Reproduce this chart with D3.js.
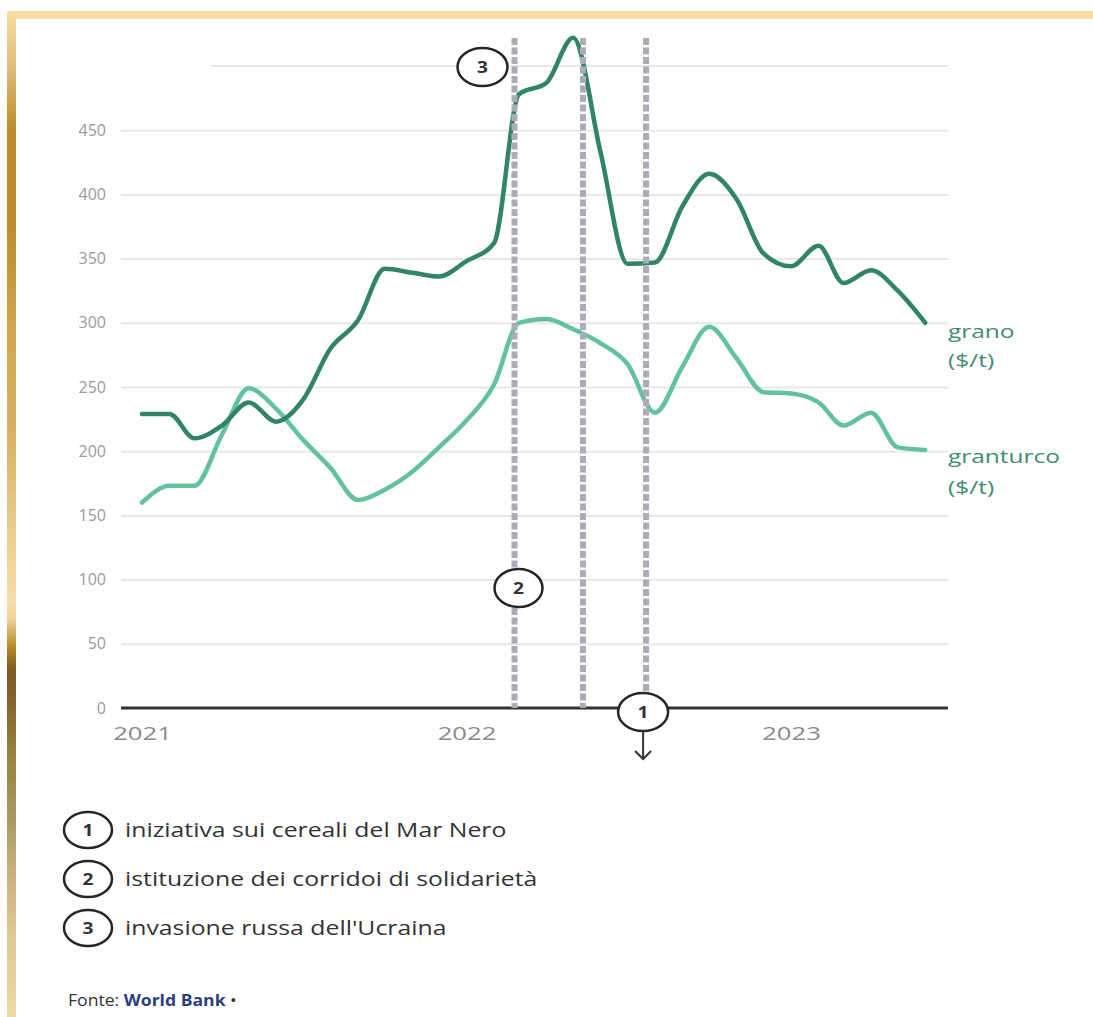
<!DOCTYPE html>
<html>
<head>
<meta charset="utf-8">
<script src="https://cdn.jsdelivr.net/npm/d3@7"></script>
<style>
  body { margin: 0; background: #fff; }
  svg { display: block; font-family: 'Open Sans', sans-serif; }
</style>
</head>
<body>
<svg width="1093" height="1017"></svg>
<script>
// monthly prices, $/t
const months = ['2021-01', '2021-02', '2021-03', '2021-04', '2021-05', '2021-06',
  '2021-07', '2021-08', '2021-09', '2021-10', '2021-11', '2021-12',
  '2022-01', '2022-02', '2022-03', '2022-04', '2022-05', '2022-06',
  '2022-07', '2022-08', '2022-09', '2022-10', '2022-11', '2022-12',
  '2023-01', '2023-02', '2023-03', '2023-04', '2023-05', '2023-06'];
const grano = [229, 229, 210, 220, 238, 223, 240, 280, 302, 342, 339, 336,
  348, 362, 478, 487, 522, 432, 346, 347, 391, 416, 396, 354,
  344, 360, 331, 341, 325, 300];
const granturco = [160, 173, 173, 213, 249, 233, 209, 187, 162, 170, 184, 203,
  224, 252, 300, 303, 295, 284, 268, 230, 266, 297, 272, 246,
  245, 238, 220, 230, 203, 201];

const yTicks = [0, 50, 100, 150, 200, 250, 300, 350, 400, 450];
const xTicks = ['2021-01', '2022-01', '2023-01'];

// events: [date, number]
const events = [['2022-02-24', 3], ['2022-05-12', 2], ['2022-07-22', 1]];
const legend = [
  [1, 'iniziativa sui cereali del Mar Nero'],
  [2, 'istituzione dei corridoi di solidarietà'],
  [3, "invasione russa dell'Ucraina"]
];

const parse = d3.timeParse('%Y-%m-%d');
const parseM = d3.timeParse('%Y-%m');

const svg = d3.select('svg');

// gold frame
const defs = svg.append('defs');
const grad = defs.append('linearGradient')
  .attr('id', 'gold').attr('x1', 0).attr('y1', 0).attr('x2', 0).attr('y2', 1);
[[0, '#f7dca0'], [0.056, '#e0be78'], [0.115, '#ba8e2a'], [0.22, '#bb9030'],
 [0.32, '#d0a850'], [0.407, '#d5b060'], [0.585, '#f7dfa8'], [0.602, '#f0d098'],
 [0.628, '#b8902e'], [0.652, '#7d5a20'], [0.685, '#86642c'], [0.735, '#998040'],
 [0.8, '#a89a60'], [0.85, '#c8b078'], [0.917, '#e0c890'], [1, '#f0d8a8']]
  .forEach(([o, c]) => grad.append('stop').attr('offset', o).attr('stop-color', c));

svg.append('rect').attr('x', 7).attr('y', 11).attr('width', 1090).attr('height', 8)
  .attr('rx', 2).attr('fill', '#f8dea6');
svg.append('rect').attr('x', 7).attr('y', 11).attr('width', 9).attr('height', 1010)
  .attr('rx', 2).attr('fill', 'url(#gold)');

const x = d3.scaleTime()
  .domain([parseM('2021-01'), parseM('2023-01')])
  .range([142, 791]);
const y = d3.scaleLinear().domain([0, 500]).range([708, 66]);

const LEFT = 121, RIGHT = 948;

// text in the source is drawn a bit wider than the font
function wideText(parent, tx, ty, sx) {
  return parent.append('g').attr('transform', `translate(${tx},${ty}) scale(${sx},1)`)
    .append('text');
}

// top gridline (500)
svg.append('line')
  .attr('x1', 211).attr('x2', RIGHT)
  .attr('y1', y(500)).attr('y2', y(500))
  .attr('stroke', '#e8e8e8').attr('stroke-width', 2);

// y axis + gridlines
const yAxis = svg.append('g')
  .attr('transform', `translate(${LEFT},0)`)
  .call(d3.axisLeft(y).tickValues(yTicks).tickSize(-(RIGHT - LEFT)).tickPadding(15));
yAxis.select('.domain').remove();
yAxis.selectAll('line').attr('stroke', '#e8e8e8').attr('stroke-width', 2)
  .filter((d) => d === 0).remove();
yAxis.selectAll('text')
  .attr('fill', '#9a9a9a').style('font-size', '16px').style('font-family', 'Open Sans');

// x axis
const xAxis = svg.append('g')
  .attr('transform', `translate(0,${y(0)})`)
  .call(d3.axisBottom(x).tickValues(xTicks.map(parseM))
    .tickFormat(d3.timeFormat('%Y')).tickSize(0).tickPadding(19));
xAxis.select('.domain').remove();
xAxis.selectAll('text')
  .attr('transform', 'scale(1.35,1)')
  .attr('fill', '#8a8a8a').style('font-size', '19px').style('font-family', 'Open Sans');

svg.append('line')
  .attr('x1', LEFT).attr('x2', RIGHT)
  .attr('y1', y(0)).attr('y2', y(0))
  .attr('stroke', '#333').attr('stroke-width', 3);

// data lines
const line = (vals) => d3.line()
  .x((d, i) => x(parseM(months[i])))
  .y((d) => y(d))
  .curve(d3.curveMonotoneX)(vals);

svg.append('path').attr('d', line(granturco))
  .attr('fill', 'none').attr('stroke', '#62c29e').attr('stroke-width', 4.5)
  .attr('stroke-linecap', 'round').attr('stroke-linejoin', 'round');
svg.append('path').attr('d', line(grano))
  .attr('fill', 'none').attr('stroke', '#318468').attr('stroke-width', 4.5)
  .attr('stroke-linecap', 'round').attr('stroke-linejoin', 'round');

// event lines
svg.selectAll('.ev')
  .data(events)
  .join('line')
  .attr('class', 'ev')
  .attr('x1', (d) => x(parse(d[0]))).attr('x2', (d) => x(parse(d[0])))
  .attr('y1', 38).attr('y2', y(0))
  .attr('stroke', '#abacb7').attr('stroke-width', 6)
  .attr('stroke-dasharray', '7,2.5');

// numbered markers
function marker(cx, cy, n, rx, ry) {
  const g = svg.append('g').attr('transform', `translate(${cx},${cy})`);
  g.append('ellipse').attr('rx', rx).attr('ry', ry)
    .attr('fill', '#fff').attr('stroke', '#262626').attr('stroke-width', 2.5);
  g.append('text').text(n)
    .attr('text-anchor', 'middle').attr('dy', '0.36em')
    .attr('transform', 'scale(1.2,1)')
    .attr('fill', '#333').style('font-weight', 'bold').style('font-size', '16px');
  return g;
}
const xInv = x(parse(events[0][0]));
const xNero = x(parse(events[2][0]));
marker(xInv - 32, 67, 3, 25, 19);
marker(xInv + 4, 588, 2, 24, 19);
marker(xNero - 3, 712, 1, 25, 19);

// arrow below marker 1
svg.append('line')
  .attr('x1', xNero - 3).attr('x2', xNero - 3)
  .attr('y1', 731).attr('y2', 759)
  .attr('stroke', '#333').attr('stroke-width', 2);
svg.append('path')
  .attr('d', `M${xNero - 11},751 L${xNero - 3},759 L${xNero + 5},751`)
  .attr('fill', 'none').attr('stroke', '#333').attr('stroke-width', 2);

// series labels
[['grano', 338], ['($/t)', 367], ['granturco', 463], ['($/t)', 494]].forEach(([t, ty]) => {
  wideText(svg, 948, ty, 1.36).text(t)
    .attr('fill', '#3f8c73').style('font-size', '18px');
});

// legend
const leg = svg.selectAll('.leg')
  .data(legend)
  .join('g')
  .attr('class', 'leg')
  .attr('transform', (d, i) => `translate(88,${830 + i * 49})`);
leg.append('ellipse').attr('rx', 24).attr('ry', 18)
  .attr('fill', '#fff').attr('stroke', '#262626').attr('stroke-width', 2.5);
leg.append('text').text((d) => d[0])
  .attr('text-anchor', 'middle').attr('dy', '0.36em')
  .attr('transform', 'scale(1.2,1)')
  .attr('fill', '#333').style('font-weight', 'bold').style('font-size', '16px');
leg.append('g').attr('transform', 'translate(37,0) scale(1.24,1)')
  .append('text').text((d) => d[1])
  .attr('dy', '0.36em')
  .attr('fill', '#333').style('font-size', '20px');

// source
const src = wideText(svg, 68, 1006, 1.1)
  .attr('fill', '#333').style('font-size', '16px');
src.append('tspan').text('Fonte: ');
src.append('tspan').text('World Bank').attr('fill', '#2c3f7c').style('font-weight', 'bold');
src.append('tspan').text(' •');
</script>
</body>
</html>
